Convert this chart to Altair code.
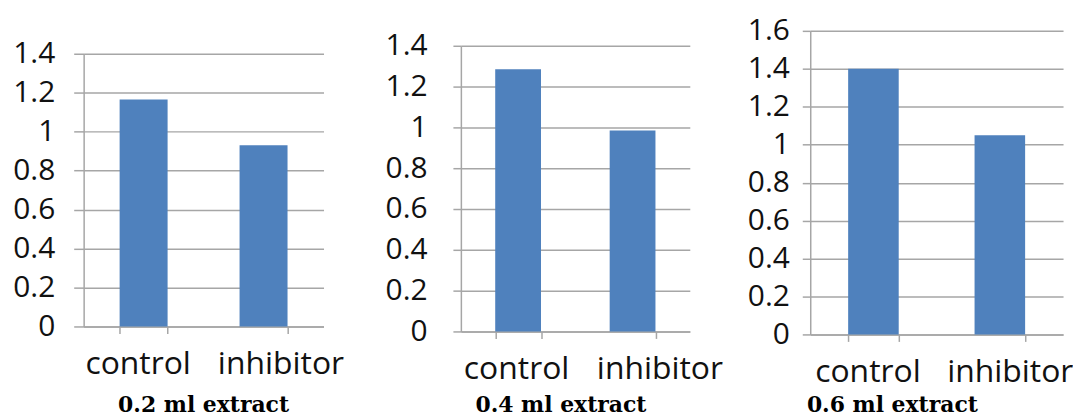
import altair as alt
import pandas as pd

categories = ["control", "inhibitor"]
panel_titles = ["0.2 ml extract", "0.4 ml extract", "0.6 ml extract"]
values_02 = [1.165, 0.93]
values_04 = [1.285, 0.985]
values_06 = [1.40, 1.05]
y_max = [1.4, 1.4, 1.6]
y_ticks = [0, 0.2, 0.4, 0.6, 0.8, 1.0, 1.2, 1.4, 1.6]

BAR = "#4F81BD"
GRID = "#a6a6a6"
TXT = "#111111"


def panel(values, title, ymax, width, height, top_px, ytick, ylabpad,
          title_x, title_y, off_ctrl, off_inh):
    df = pd.DataFrame({"group": categories, "value": values})
    ticks = [t for t in y_ticks if t <= ymax + 1e-9]
    return alt.Chart(df).mark_bar(color=BAR).encode(
        x=alt.X(
            "group:N",
            sort=categories,
            scale=alt.Scale(paddingInner=0.6, paddingOuter=0.3),
            axis=alt.Axis(
                title=title,
                titleFont="DejaVu Serif",
                titleFontWeight="bold",
                titleFontSize=22,
                titleColor="#000000",
                titleX=title_x,
                titleY=title_y,
                titleAlign="center",
                titleBaseline="alphabetic",
                labelAngle=0,
                labelFont="Open Sans",
                labelFontSize=32,
                labelColor=TXT,
                labelBaseline="alphabetic",
                labelPadding=40,
                labelOffset={"condition": {"test": "datum.value == 'inhibitor'", "value": off_inh}, "value": off_ctrl},
                tickBand="extent",
                tickSize=7,
                tickColor=GRID,
                tickWidth=1.5,
                domainColor=GRID,
                domainWidth=1.5,
                grid=False,
            ),
        ),
        y=alt.Y(
            "value:Q",
            scale=alt.Scale(domain=[0, ymax], nice=False, range=[height, top_px]),
            axis=alt.Axis(
                title=None,
                values=ticks,
                format="~g",
                labelFont="Open Sans",
                labelFontSize=30,
                labelColor=TXT,
                labelPadding=ylabpad,
                tickSize=ytick,
                tickColor=GRID,
                tickWidth=1.5,
                domainColor=GRID,
                domainWidth=1.5,
                gridColor=GRID,
                gridWidth=1.5,
            ),
        ),
    ).properties(width=width, height=height)


p1 = panel(values_02, panel_titles[0], y_max[0], 241, 297, 23, 10, 19, 120, 85, -6, 17)
p2 = panel(values_04, panel_titles[1], y_max[1], 230, 302, 15, 8, 26, 100, 80, -2, 27)
p3 = panel(values_06, panel_titles[2], y_max[2], 254, 305, 0, 8, 13, 82, 77, -6, 10)

chart = alt.hconcat(alt.hconcat(p1, p2, spacing=40), p3, spacing=24).properties(
    padding={"left": 4, "top": 7, "right": 0, "bottom": 0}
).configure_view(stroke=None)

chart.save("out.html", embed_options={"renderer": "svg", "actions": False})
